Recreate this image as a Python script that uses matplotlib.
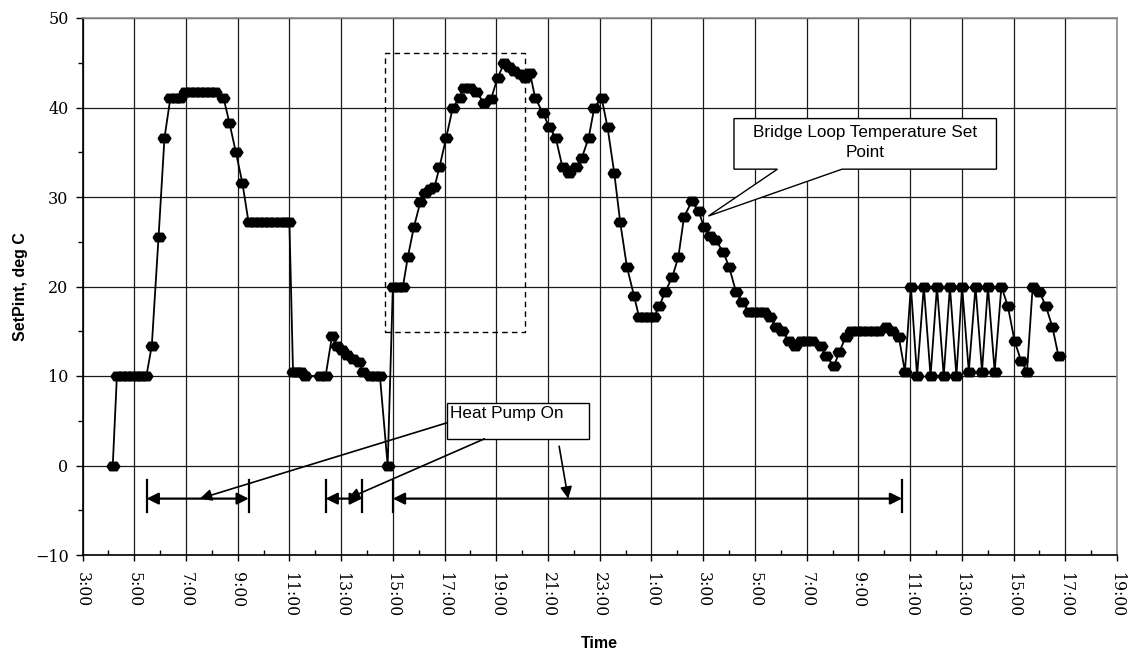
import matplotlib
matplotlib.use("Agg")
import matplotlib.pyplot as plt
from matplotlib.patches import Rectangle, Polygon
from matplotlib.ticker import MultipleLocator
import numpy as np

# Bridge loop temperature set point, logged over ~38 h.
# Time is given in hours elapsed since 3:00 on the first day.
elapsed_h = [
    1.17, 1.33, 1.52, 1.71, 1.90, 2.09, 2.28, 2.47, 2.68, 2.94,
    3.17, 3.40, 3.60, 3.78, 3.97, 4.17, 4.36, 4.55, 4.74, 4.94,
    5.13, 5.45, 5.68, 5.93, 6.18, 6.42, 6.62, 6.82, 7.02, 7.22,
    7.42, 7.62, 7.82, 8.00, 8.14, 8.30, 8.46, 8.59, 9.20, 9.40,
    9.65, 9.85, 10.03, 10.24, 10.46, 10.68, 10.84, 11.10, 11.30, 11.50,
    11.80, 12.00, 12.19, 12.39, 12.58, 12.81, 13.06, 13.26, 13.44, 13.61,
    13.80, 14.06, 14.32, 14.58, 14.77, 14.99, 15.22, 15.54, 15.80, 16.05,
    16.31, 16.50, 16.70, 16.90, 17.10, 17.30, 17.50, 17.80, 18.05, 18.30,
    18.56, 18.82, 19.08, 19.31, 19.57, 19.79, 20.07, 20.30, 20.56, 20.79,
    21.05, 21.33, 21.52, 21.72, 21.91, 22.10, 22.30, 22.53, 22.81, 23.04,
    23.26, 23.56, 23.82, 24.03, 24.25, 24.47, 24.77, 25.00, 25.27, 25.51,
    25.77, 25.97, 26.16, 26.35, 26.60, 26.80, 27.06, 27.32, 27.55, 27.77,
    27.98, 28.21, 28.54, 28.76, 29.05, 29.27, 29.51, 29.70, 29.93, 30.15,
    30.38, 30.60, 30.79, 31.05, 31.30, 31.56, 31.80, 32.03, 32.27, 32.53,
    32.79, 33.04, 33.30, 33.54, 33.79, 34.01, 34.27, 34.53, 34.78, 35.01,
    35.27, 35.53, 35.78, 36.04, 36.29, 36.52, 36.74, 37.00, 37.25, 37.50,
    37.74,
]
setpoint_c = [
    0.0, 10.0, 10.0, 10.0, 10.0, 10.0, 10.0, 10.0, 13.4, 25.5,
    36.6, 41.1, 41.1, 41.1, 41.7, 41.7, 41.7, 41.7, 41.7, 41.7,
    41.7, 41.1, 38.3, 35.0, 31.6, 27.2, 27.2, 27.2, 27.2, 27.2,
    27.2, 27.2, 27.2, 27.2, 10.5, 10.5, 10.5, 10.0, 10.0, 10.0,
    14.5, 13.4, 12.9, 12.3, 11.9, 11.6, 10.5, 10.0, 10.0, 10.0,
    0.0, 20.0, 20.0, 20.0, 23.3, 26.6, 29.4, 30.5, 30.9, 31.1,
    33.3, 36.6, 40.0, 41.1, 42.2, 42.2, 41.7, 40.5, 41.0, 43.3,
    45.0, 44.5, 44.1, 43.7, 43.3, 43.9, 41.1, 39.4, 37.8, 36.6,
    33.3, 32.7, 33.3, 34.4, 36.6, 40.0, 41.1, 37.8, 32.7, 27.2,
    22.2, 18.9, 16.6, 16.6, 16.6, 16.6, 17.8, 19.4, 21.1, 23.3,
    27.8, 29.5, 28.4, 26.7, 25.6, 25.2, 23.9, 22.2, 19.4, 18.3,
    17.2, 17.2, 17.2, 17.2, 16.6, 15.5, 15.0, 13.9, 13.3, 13.9,
    13.9, 13.9, 13.3, 12.2, 11.1, 12.7, 14.4, 15.0, 15.0, 15.0,
    15.0, 15.0, 15.0, 15.5, 15.0, 14.4, 10.5, 20.0, 10.0, 20.0,
    10.0, 20.0, 10.0, 20.0, 10.0, 20.0, 10.5, 20.0, 10.5, 20.0,
    10.5, 20.0, 17.8, 13.9, 11.7, 10.5, 20.0, 19.4, 17.8, 15.5,
    12.2,
]

# Periods when the heat pump was running (start, end), hours since 3:00
heat_pump_on = [(2.48, 6.43), (9.40, 10.80), (12.00, 31.69)]

START_HOUR = 3
x_ticks = list(range(0, 41, 2))
x_tick_labels = [f"{(START_HOUR + h) % 24}:00" for h in x_ticks]
y_ticks = list(range(-10, 51, 10))

W, H, DPI = 1128, 654, 100
fig = plt.figure(figsize=(W / DPI, H / DPI), dpi=DPI)
ax = fig.add_axes([82.5 / W, 1 - 555 / H, (1117 - 82.5) / W, (555 - 18) / H])

ax.set_xlim(0, 40)
ax.set_ylim(-10, 50)

# Grid and axes styling
ax.set_axisbelow(True)
ax.set_xticks(x_ticks)
ax.set_xticklabels(x_tick_labels, rotation=270, family="DejaVu Serif", fontsize=11.3)
ax.xaxis.set_minor_locator(MultipleLocator(1))
ax.set_yticks(y_ticks)
ax.set_yticklabels([f"{v}".replace("-", "\u2212") for v in y_ticks],
                   family="DejaVu Serif", fontsize=11.5)
ax.yaxis.set_minor_locator(MultipleLocator(5))
ax.grid(True, which="major", color="#1a1a1a", linewidth=0.9)

ax.tick_params(axis="x", which="major", direction="out", length=4.2, width=1.0, pad=8)
ax.tick_params(axis="x", which="minor", direction="in", length=3.6, width=1.0)
ax.tick_params(axis="y", which="major", direction="out", length=5.0, width=1.0, pad=5)
ax.tick_params(axis="y", which="minor", direction="out", length=3.8, width=1.0)

for side in ("left", "bottom"):
    ax.spines[side].set_color("black")
    ax.spines[side].set_linewidth(1.2)
for side in ("top", "right"):
    ax.spines[side].set_color("#8c8c8c")
    ax.spines[side].set_linewidth(1.2)

ax.set_xlabel("Time", family="Liberation Sans", fontweight="bold", fontsize=11.5)
ax.xaxis.set_label_coords(0.5, -0.151)
ax.set_ylabel("SetPint, deg C", family="Liberation Sans", fontweight="bold", fontsize=11.5)
ax.yaxis.set_label_coords(-0.053, 0.5)

# Set point series with wide hexagonal markers
hex_marker = [(-1.5, 0), (-0.85, 1), (0.85, 1), (1.5, 0), (0.85, -1), (-0.85, -1), (-1.5, 0)]
ax.plot(elapsed_h, setpoint_c, color="black", linewidth=1.3,
        marker=hex_marker, markersize=9.2, markerfacecolor="black",
        markeredgecolor="black", zorder=3)

# Dashed box around the first-afternoon rise
ax.add_patch(Rectangle((11.68, 14.9), 17.12 - 11.68, 46.1 - 14.9, fill=False,
                       edgecolor="black", linewidth=1.0, linestyle=(0, (4, 3)), zorder=2.5))

# Heat pump running spans
span_y = -3.7
head = "<|-|>,head_length=0.7,head_width=0.35"
for t0, t1 in heat_pump_on:
    ax.annotate("", xy=(t1, span_y), xytext=(t0, span_y),
                arrowprops=dict(arrowstyle=head, color="black", lw=1.6,
                                mutation_scale=10, shrinkA=0, shrinkB=0), zorder=4)
    ax.plot([t0, t0], [-1.6, -5.2], color="black", linewidth=1.6, zorder=4)
    ax.plot([t1, t1], [-1.6, -5.2], color="black", linewidth=1.6, zorder=4)

# "Heat Pump On" callout box and leaders
ax.add_patch(Rectangle((14.08, 2.98), 19.57 - 14.08, 6.99 - 2.98, facecolor="white",
                       edgecolor="black", linewidth=1.0, zorder=5))
ax.text(14.22, 6.6, "Heat Pump On", ha="left", va="top", family="Liberation Sans",
        fontsize=12.3, zorder=6)
leaders = [((14.08, 4.76), (4.54, span_y)),
           ((15.54, 2.98), (10.26, span_y)),
           ((18.43, 2.15), (18.78, span_y))]
for (sx, sy), (ex, ey) in leaders:
    ax.annotate("", xy=(ex, ey), xytext=(sx, sy),
                arrowprops=dict(arrowstyle="-|>,head_length=0.7,head_width=0.35",
                                color="black", lw=1.2, mutation_scale=10,
                                shrinkA=0, shrinkB=0), zorder=5)

# Wedge callout naming the series
bubble = [(25.19, 38.76), (35.34, 38.76), (35.34, 33.11), (29.37, 33.11),
          (24.20, 27.87), (26.87, 33.11), (25.19, 33.11)]
ax.add_patch(Polygon(bubble, closed=True, facecolor="white", edgecolor="black",
                     linewidth=1.0, zorder=5))
ax.text((25.19 + 35.34) / 2, 36.1, "Bridge Loop Temperature Set\nPoint",
        ha="center", va="center", multialignment="center", family="Liberation Sans",
        fontsize=12.3, linespacing=1.4, zorder=6)

fig.savefig("out.png", dpi=DPI)
